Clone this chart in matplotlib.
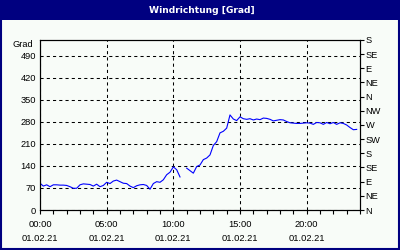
import numpy as np
import matplotlib
matplotlib.use("Agg")
import matplotlib.pyplot as plt
from matplotlib.patches import Rectangle

# Windrichtung, Viertelstundenwerte (Grad), NaN = Datenluecke
stunden = np.arange(96) * 0.25
richtung = [85, 76, 80, 74, 80, 80, 79, 79,
            78, 74, 69, 69, 80, 83, 82, 81,
            76, 82, 74, 78, 88, 84, 92, 95,
            90, 85, 84, 76, 71, 77, 80, 81,
            78, 66, 84, 90, 88, 96, 112, 120,
            137, 128, 105, np.nan, 133, 125, 117, 138,
            143, 160, 165, 175, 205, 217, 245, 250,
            260, 302, 289, 284, 296, 290, 288, 290,
            286, 289, 287, 292, 291, 288, 283, 285,
            287, 286, 281, 277, 276, 275, 275, 276,
            277, 276, 272, 278, 277, 272, 278, 274,
            278, 272, 277, 275, 270, 262, 255, 256]

links_ticks = [0, 70, 140, 210, 280, 350, 420, 490]
rechts_ticks = [0, 45, 90, 135, 180, 225, 270, 315, 360, 405, 450, 495, 540]
rechts_labels = ["N", "NE", "E", "SE", "S", "SW", "W", "NW", "N", "NE", "E", "SE", "S"]
x_ticks = [0, 5, 10, 15, 20]
x_labels = ["00:00\n\n01.02.21", "05:00\n\n01.02.21", "10:00\n\n01.02.21",
            "15:00\n\n01.02.21", "20:00\n\n01.02.21"]

plt.rcParams['font.family'] = ['Liberation Sans', 'DejaVu Sans']
navy = "#000080"

fig = plt.figure(figsize=(4, 2.5), dpi=100, facecolor="#F8FCF8")
# title bar + border
fig.patches.append(Rectangle((0, 0.92), 1, 0.08, transform=fig.transFigure,
                             facecolor=navy, edgecolor="none", zorder=0))
fig.patches.append(Rectangle((0.002, 0.004), 0.996, 0.99, transform=fig.transFigure,
                             facecolor="none", edgecolor=navy, linewidth=1.5, zorder=1))
fig.text(0.505, 0.958, "Windrichtung [Grad]", color="white", ha="center", va="center",
         fontsize=6.6, fontweight="bold", family="DejaVu Sans")

ax = fig.add_axes([0.1, 0.16, 0.8, 0.68])
ax.set_facecolor("#F8FCF8")
ax.plot(stunden, richtung, color="#0000FF", linewidth=0.8)

ax.set_xlim(0, 24)
ax.set_ylim(0, 540)
ax.set_xticks(x_ticks)
ax.set_xticklabels(x_labels, linespacing=0.75)
ax.set_xticks(np.arange(0, 25, 1), minor=True)
ax.set_yticks(links_ticks)
ax.tick_params(axis="x", which="both", direction="out", length=3, width=0.8,
               labelsize=6.7, pad=4)
ax.tick_params(axis="y", length=0, labelsize=6.7, pad=3)

ax.grid(True, which="major", color="black", linestyle=(0, (3, 3)), linewidth=0.75)
for s in ax.spines.values():
    s.set_linewidth(0.8)

ax.text(-0.02, 1.0, "Grad", transform=ax.transAxes, ha="right", va="top", fontsize=6.7)

ax2 = ax.twinx()
ax2.set_ylim(0, 540)
ax2.set_yticks(rechts_ticks)
ax2.set_yticklabels(rechts_labels)
ax2.tick_params(axis="y", direction="out", length=3, width=0.8, labelsize=6.7, pad=1)

fig.savefig("out.png", dpi=100, facecolor=fig.get_facecolor())
